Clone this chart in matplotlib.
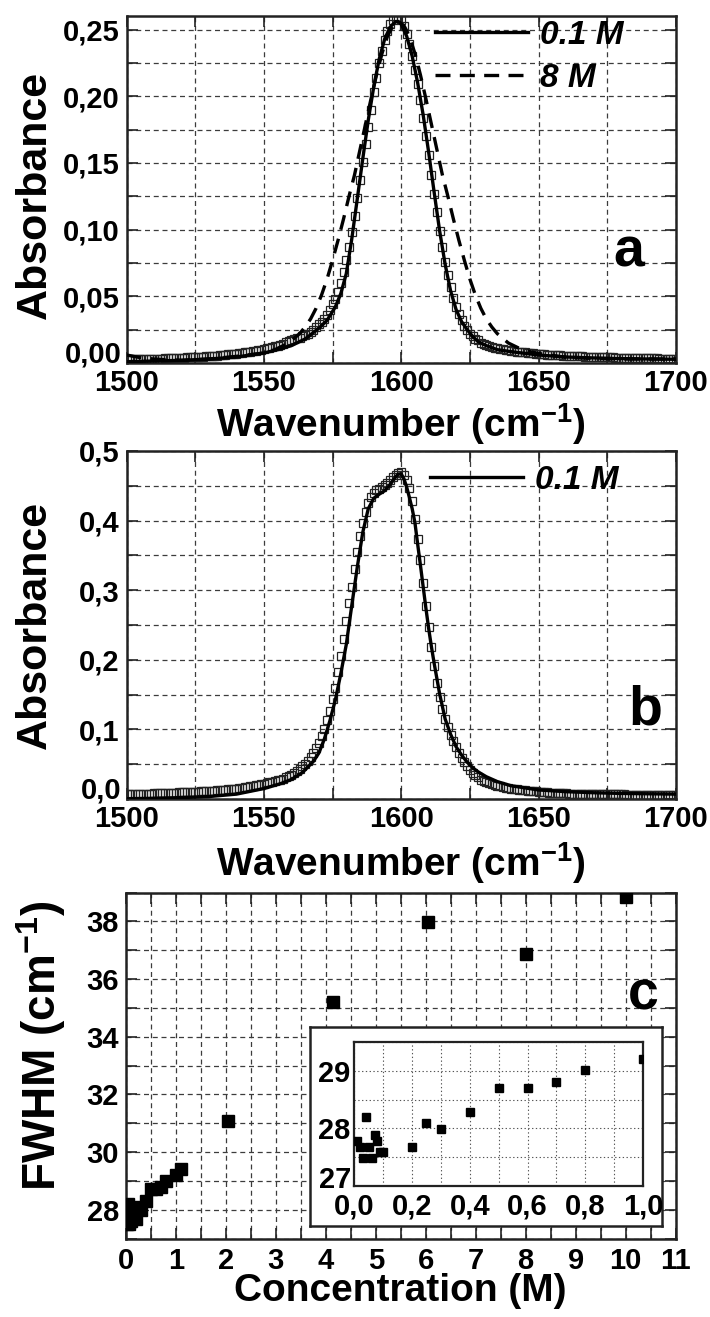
import numpy as np
import matplotlib
matplotlib.use("Agg")
import matplotlib.pyplot as plt
from matplotlib.ticker import MultipleLocator, FuncFormatter
from matplotlib.transforms import offset_copy

plt.rcParams['font.family'] = ['Liberation Sans', 'DejaVu Sans']
plt.rcParams['font.weight'] = 'bold'
plt.rcParams['mathtext.fontset'] = 'custom'
plt.rcParams['mathtext.rm'] = 'Liberation Sans:bold'
plt.rcParams['mathtext.it'] = 'Liberation Sans:bold:italic'
plt.rcParams['mathtext.bf'] = 'Liberation Sans:bold'
plt.rcParams['mathtext.default'] = 'rm'

# ---------------- data ----------------
# wavenumber sampling of the measured spectra (1 cm-1 step)
wn = np.arange(1500, 1701, 1)

# panel a: measured spectrum (open squares), 1500..1700
sq_a = [
    0.003, 0.003, 0.003, 0.003, 0.003, 0.003, 0.003, 0.003, 0.003, 0.003,
    0.003, 0.003, 0.0032, 0.0033, 0.0034, 0.0035, 0.0036, 0.0037, 0.0038, 0.0039,
    0.004, 0.0041, 0.0042, 0.0043, 0.0044, 0.0045, 0.0046, 0.0047, 0.0048, 0.0049,
    0.005, 0.0052, 0.0054, 0.0056, 0.0058, 0.006, 0.0062, 0.0064, 0.0066, 0.0068,
    0.007, 0.0073, 0.0076, 0.0079, 0.0082, 0.0085, 0.0089, 0.0093, 0.0097, 0.0101,
    0.0105, 0.011, 0.0115, 0.012, 0.0125, 0.013, 0.0138, 0.0146, 0.0154, 0.0162,
    0.017, 0.0177, 0.0184, 0.019, 0.020, 0.021, 0.022, 0.023, 0.025, 0.027,
    0.029, 0.031, 0.033, 0.036, 0.040, 0.044, 0.048, 0.053, 0.060, 0.068,
    0.077, 0.087, 0.098, 0.110, 0.124, 0.137, 0.151, 0.164, 0.177, 0.190,
    0.203, 0.214, 0.225, 0.234, 0.242, 0.249, 0.254, 0.257, 0.259, 0.259,
    0.257, 0.253, 0.247, 0.239, 0.230, 0.220, 0.209, 0.197, 0.184, 0.170,
    0.156, 0.141, 0.127, 0.113, 0.099, 0.087, 0.076, 0.066, 0.057, 0.049,
    0.042, 0.037, 0.032, 0.028, 0.025, 0.022, 0.020, 0.018, 0.017, 0.015,
    0.014, 0.0132, 0.0125, 0.012, 0.0115, 0.011, 0.0106, 0.0102, 0.0098, 0.0094,
    0.009, 0.0088, 0.0086, 0.0084, 0.0082, 0.008, 0.0078, 0.0075, 0.0072, 0.007,
    0.0068, 0.0066, 0.0065, 0.0063, 0.0062, 0.006, 0.0059, 0.0058, 0.0057, 0.0056,
    0.0055, 0.0054, 0.0053, 0.0052, 0.0051, 0.005, 0.0049, 0.0048, 0.0047, 0.0046,
    0.0045, 0.0045, 0.0044, 0.0044, 0.0043, 0.0043, 0.0042, 0.0042, 0.0041, 0.0041,
    0.004, 0.004, 0.0039, 0.0039, 0.0038, 0.0038, 0.0037, 0.0037, 0.0036, 0.0036,
    0.0035, 0.0035, 0.0034, 0.0034, 0.0033, 0.0033, 0.0032, 0.0032, 0.0031, 0.0031,
    0.003,
]

# panel a: 0.1 M curve (solid)
line01_a_x = [1500, 1510, 1520, 1530, 1540, 1550, 1555, 1560, 1565, 1570, 1573, 1576,
              1578, 1580, 1582, 1584, 1586, 1588, 1590, 1592, 1594, 1596, 1598, 1599,
              1600, 1602, 1604, 1606, 1608, 1610, 1612, 1614, 1616, 1618, 1620, 1622,
              1624, 1626, 1628, 1631, 1635, 1640, 1650, 1660, 1670, 1680, 1690, 1700]
line01_a_y = [0.001, 0.0015, 0.002, 0.003, 0.0045, 0.0075, 0.010, 0.013, 0.018, 0.026,
              0.032, 0.042, 0.052, 0.067, 0.093, 0.123, 0.153, 0.182, 0.207, 0.228,
              0.243, 0.252, 0.256, 0.256, 0.254, 0.245, 0.230, 0.210, 0.186, 0.158,
              0.128, 0.099, 0.074, 0.054, 0.040, 0.031, 0.025, 0.020, 0.016, 0.013,
              0.010, 0.0085, 0.006, 0.0045, 0.0038, 0.0033, 0.003, 0.0028]

# panel a: 8 M curve (dashed)
line8_a_x = [1500, 1505, 1510, 1520, 1530, 1540, 1550, 1554, 1559, 1563, 1565, 1567,
             1569, 1571, 1573, 1575, 1577, 1579, 1581, 1583, 1585, 1587, 1589, 1591,
             1593, 1595, 1597, 1599, 1601, 1603, 1605, 1607, 1609, 1611, 1613, 1615,
             1617, 1619, 1621, 1623, 1625, 1627, 1629, 1631, 1633, 1635, 1639, 1644,
             1649, 1659, 1669, 1680, 1700]
line8_a_y = [0.006, 0.004, 0.003, 0.002, 0.003, 0.005, 0.0075, 0.010, 0.015, 0.022,
             0.027, 0.033, 0.041, 0.051, 0.063, 0.077, 0.092, 0.108, 0.125, 0.141,
             0.160, 0.179, 0.198, 0.216, 0.232, 0.245, 0.253, 0.256, 0.253, 0.245,
             0.232, 0.216, 0.198, 0.179, 0.160, 0.141, 0.125, 0.108, 0.092, 0.077,
             0.063, 0.051, 0.041, 0.033, 0.027, 0.022, 0.015, 0.010, 0.0075, 0.0045,
             0.0035, 0.003, 0.003]

# panel b: measured spectrum (open squares), 1500..1700
sq_b = [
    0.007, 0.007, 0.0071, 0.0072, 0.0073, 0.0075, 0.0076, 0.0077, 0.0078, 0.0079,
    0.008, 0.0082, 0.0084, 0.0086, 0.0088, 0.009, 0.0091, 0.0092, 0.0093, 0.0094,
    0.0095, 0.0097, 0.0099, 0.0101, 0.0103, 0.0105, 0.0107, 0.0109, 0.0111, 0.0113,
    0.0115, 0.0118, 0.0121, 0.0124, 0.0127, 0.013, 0.0134, 0.0138, 0.0142, 0.0146,
    0.015, 0.0156, 0.0162, 0.0168, 0.0174, 0.018, 0.0188, 0.0196, 0.0204, 0.0212,
    0.022, 0.023, 0.024, 0.025, 0.026, 0.027, 0.028, 0.029, 0.031, 0.033,
    0.035, 0.0375, 0.040, 0.0435, 0.047, 0.051, 0.055, 0.060, 0.066, 0.073,
    0.081, 0.090, 0.101, 0.113, 0.127, 0.143, 0.160, 0.182, 0.205, 0.230,
    0.256, 0.281, 0.305, 0.330, 0.355, 0.378, 0.397, 0.413, 0.425, 0.434,
    0.440, 0.444, 0.446, 0.448, 0.451, 0.454, 0.458, 0.462, 0.466, 0.469,
    0.470, 0.466, 0.458, 0.447, 0.428, 0.403, 0.374, 0.343, 0.310, 0.278,
    0.247, 0.218, 0.191, 0.167, 0.146, 0.129, 0.115, 0.103, 0.092, 0.083,
    0.074, 0.066, 0.059, 0.053, 0.047, 0.042, 0.038, 0.034, 0.031, 0.028,
    0.026, 0.0245, 0.023, 0.0215, 0.020, 0.019, 0.018, 0.0172, 0.0164, 0.0157,
    0.015, 0.0145, 0.014, 0.0135, 0.013, 0.0125, 0.0121, 0.0117, 0.0113, 0.0109,
    0.0105, 0.0102, 0.0099, 0.0096, 0.0093, 0.009, 0.0088, 0.0086, 0.0084, 0.0082,
    0.008, 0.0079, 0.0078, 0.0077, 0.0076, 0.0075, 0.0074, 0.0073, 0.0072, 0.0071,
    0.007, 0.007, 0.0069, 0.0069, 0.0068, 0.0068, 0.0067, 0.0067, 0.0066, 0.0066,
    0.0065, 0.0065, 0.0064, 0.0064, 0.0063, 0.0063, 0.0062, 0.0062, 0.0061, 0.0061,
    0.006, 0.006, 0.0059, 0.0059, 0.0058, 0.0058, 0.0057, 0.0057, 0.0056, 0.0056,
    0.0055,
]

# panel b: 0.1 M curve (solid)
line01_b_x = [1500, 1510, 1520, 1530, 1540, 1550, 1556, 1560, 1564, 1568, 1570, 1572,
              1574, 1576, 1578, 1580, 1582, 1584, 1586, 1588, 1590, 1592, 1594, 1596,
              1598, 1599, 1600, 1601, 1602, 1603, 1604, 1605, 1606, 1607, 1608, 1609,
              1610, 1611, 1612, 1613, 1614, 1616, 1618, 1620, 1622, 1624, 1626, 1628,
              1631, 1635, 1640, 1645, 1650, 1660, 1670, 1680, 1690, 1700]
line01_b_y = [0.0005, 0.001, 0.002, 0.0035, 0.007, 0.015, 0.022, 0.028, 0.038, 0.054,
              0.066, 0.086, 0.112, 0.142, 0.180, 0.222, 0.278, 0.333, 0.383, 0.417,
              0.432, 0.438, 0.443, 0.452, 0.463, 0.467, 0.467, 0.460, 0.448, 0.433,
              0.417, 0.397, 0.366, 0.336, 0.305, 0.274, 0.245, 0.219, 0.195, 0.173,
              0.151, 0.115, 0.093, 0.075, 0.063, 0.053, 0.045, 0.039, 0.032, 0.025,
              0.019, 0.016, 0.013, 0.0105, 0.009, 0.008, 0.0075, 0.007]

# panel c: FWHM vs concentration
conc = [0.01, 0.02, 0.03, 0.04, 0.05, 0.06, 0.07, 0.08, 0.09, 0.10,
        0.20, 0.25, 0.30, 0.40, 0.50, 0.60, 0.70, 0.80, 1.00,
        1.10, 2.05, 4.15, 6.05, 8.00, 10.00]
fwhm = [27.78, 27.68, 27.49, 28.19, 27.68, 27.49, 27.88, 27.78, 27.59, 27.59,
        27.68, 28.09, 27.99, 28.29, 28.70, 28.70, 28.80, 29.01, 29.21,
        29.42, 31.09, 35.19, 37.98, 36.87, 38.85]
inset_n = 19  # points shown in the inset (concentration <= 1 M)

legend_labels_a = ["0.1 M", "8 M"]
legend_labels_b = ["0.1 M"]

# ---------------- figure ----------------
W, H = 710, 1317
fig = plt.figure(figsize=(W / 100, H / 100), dpi=100)
fig.patch.set_facecolor("white")


def ax_rect(l, t, r, b):
    return [l / W, 1 - b / H, (r - l) / W, (b - t) / H]


axA = fig.add_axes(ax_rect(126.6, 16.2, 675.8, 363.0))
axB = fig.add_axes(ax_rect(126.6, 451.0, 675.8, 799.0))
axC = fig.add_axes(ax_rect(126.0, 892.5, 675.5, 1238.5))

TICK_FS = 21
LABEL_FS = 28
GRID_KW = dict(color="#3c3c3c", lw=0.9, ls=(0, (4, 3)))


def comma_fmt(nd, skip=None):
    def f(v, p):
        if skip is not None and abs(v - skip) < 1e-9:
            return ""
        return f"{v:.{nd}f}".replace(".", ",")
    return FuncFormatter(f)


def style(ax, xmaj, xmin, ymaj, ymin, grid_kw, fs=TICK_FS, tl=8, spw=1.8, xpad=4, ypad=5):
    ax.xaxis.set_major_locator(MultipleLocator(xmaj))
    ax.xaxis.set_minor_locator(MultipleLocator(xmin))
    ax.yaxis.set_major_locator(MultipleLocator(ymaj))
    ax.yaxis.set_minor_locator(MultipleLocator(ymin))
    ax.grid(True, which="both", **grid_kw)
    ax.set_axisbelow(True)
    ax.tick_params(which="both", direction="in", top=True, right=True,
                   length=tl, width=1.2, labelsize=fs, color="#222222")
    ax.tick_params(axis="x", pad=xpad)
    ax.tick_params(axis="y", pad=ypad)
    for sp in ax.spines.values():
        sp.set_linewidth(spw)
        sp.set_color("#222222")


def lowest_ylabel(ax, value, text, pad_pt, lift_pt, fs=TICK_FS):
    # lowest y tick label, raised a little above the x axis as in the reference
    tr = offset_copy(ax.get_yaxis_transform(), fig=fig, x=-pad_pt, y=lift_pt, units="points")
    ax.text(0, value, text, transform=tr, ha="right", va="center_baseline",
            fontsize=fs, fontweight="bold", clip_on=False)


SQ_KW = dict(ls="none", marker="s", ms=5.8, mfc="none", mec="#222222", mew=0.9, zorder=2)
SOLID_KW = dict(color="black", lw=2.4, zorder=3)
DASH_KW = dict(color="black", lw=2.4, ls=(0, (4.5, 2.8)), zorder=3)
LEG_PROP = dict(family="Liberation Sans", weight="bold", style="italic", size=24)

# ---- panel a ----
axA.plot(wn, sq_a, **SQ_KW)
la1, = axA.plot(line01_a_x, line01_a_y, label=legend_labels_a[0], **SOLID_KW)
la2, = axA.plot(line8_a_x, line8_a_y, label=legend_labels_a[1], **DASH_KW)
axA.set_xlim(1500, 1700)
axA.set_ylim(0, 0.26)
style(axA, 50, 25, 0.05, 0.025, GRID_KW)
axA.yaxis.set_major_formatter(comma_fmt(2, skip=0.0))
lowest_ylabel(axA, 0.0, "0,00", 3.6, 8.0)
axA.set_ylabel("Absorbance", fontsize=31, fontweight="bold")
axA.yaxis.set_label_coords(-0.13, 0.485)
axA.set_xlabel("Wavenumber (cm$^{-1}$)", fontsize=LABEL_FS, fontweight="bold")
axA.xaxis.set_label_coords(0.5, -0.11)
axA.xaxis.label.set_va("top")
axA.legend(handles=[la1, la2], loc="upper left", bbox_to_anchor=(0.5615, 0.989),
           frameon=False, borderpad=0, borderaxespad=0, handlelength=2.8,
           handletextpad=0.36, labelspacing=0.36, prop=LEG_PROP)
axA.text(1683, 0.072, "a", fontsize=40, fontweight="bold", ha="center", va="baseline")

# ---- panel b ----
axB.plot(wn, sq_b, **SQ_KW)
lb1, = axB.plot(line01_b_x, line01_b_y, label=legend_labels_b[0], **SOLID_KW)
axB.set_xlim(1500, 1700)
axB.set_ylim(0, 0.5)
style(axB, 50, 25, 0.1, 0.05, GRID_KW)
axB.yaxis.set_major_formatter(comma_fmt(1, skip=0.0))
lowest_ylabel(axB, 0.0, "0,0", 3.6, 8.0)
axB.set_ylabel("Absorbance", fontsize=31, fontweight="bold")
axB.yaxis.set_label_coords(-0.13, 0.5)
axB.set_xlabel("Wavenumber (cm$^{-1}$)", fontsize=LABEL_FS, fontweight="bold")
axB.xaxis.set_label_coords(0.5, -0.118)
axB.xaxis.label.set_va("top")
axB.legend(handles=[lb1], loc="upper left", bbox_to_anchor=(0.5525, 0.96),
           frameon=False, borderpad=0, borderaxespad=0, handlelength=2.8,
           handletextpad=0.36, prop=LEG_PROP)
axB.text(1689, 0.107, "b", fontsize=40, fontweight="bold", ha="center", va="baseline")

# ---- panel c ----
axC.plot(conc, fwhm, ls="none", marker="s", ms=8.2, mfc="black", mec="black", zorder=3)
axC.set_xlim(0, 11)
axC.set_ylim(27, 39)
style(axC, 1, 0.5, 2, 1, GRID_KW, xpad=6)
axC.set_ylabel("FWHM (cm$^{-1}$)", fontsize=33, fontweight="bold")
axC.yaxis.set_label_coords(-0.105, 0.556)
axC.set_xlabel("Concentration (M)", fontsize=LABEL_FS, fontweight="bold")
axC.xaxis.set_label_coords(0.5, -0.1)
axC.xaxis.label.set_va("top")
axC.text(10.35, 34.95, "c", fontsize=40, fontweight="bold", ha="center", va="baseline")

# inset frame (white box with border)
box = fig.add_axes(ax_rect(310, 1026.7, 662, 1226))
box.set_xticks([])
box.set_yticks([])
box.set_facecolor("white")
for sp in box.spines.values():
    sp.set_linewidth(1.8)
    sp.set_color("#222222")

axI = fig.add_axes(ax_rect(354.3, 1042.3, 643.0, 1185.7))
axI.plot(conc[:inset_n], fwhm[:inset_n], ls="none", marker="s", ms=5.2,
         mfc="black", mec="black", zorder=3, clip_on=True)
axI.set_xlim(0, 1.0)
axI.set_ylim(27, 29.5)
style(axI, 0.2, 0.1, 1, 0.5, dict(color="#555555", lw=0.8, ls=(0, (1.2, 2.2))),
      fs=TICK_FS, tl=0, spw=1.6, xpad=5, ypad=3)
axI.tick_params(which="both", top=False, right=False, length=0)
axI.xaxis.set_major_formatter(comma_fmt(1))
axI.yaxis.set_major_formatter(FuncFormatter(lambda v, p: "" if abs(v - 27) < 1e-9 else f"{v:.0f}"))
lowest_ylabel(axI, 27.0, "27", 2.2, 6.0)

fig.savefig("out.png", dpi=100, facecolor="white")
